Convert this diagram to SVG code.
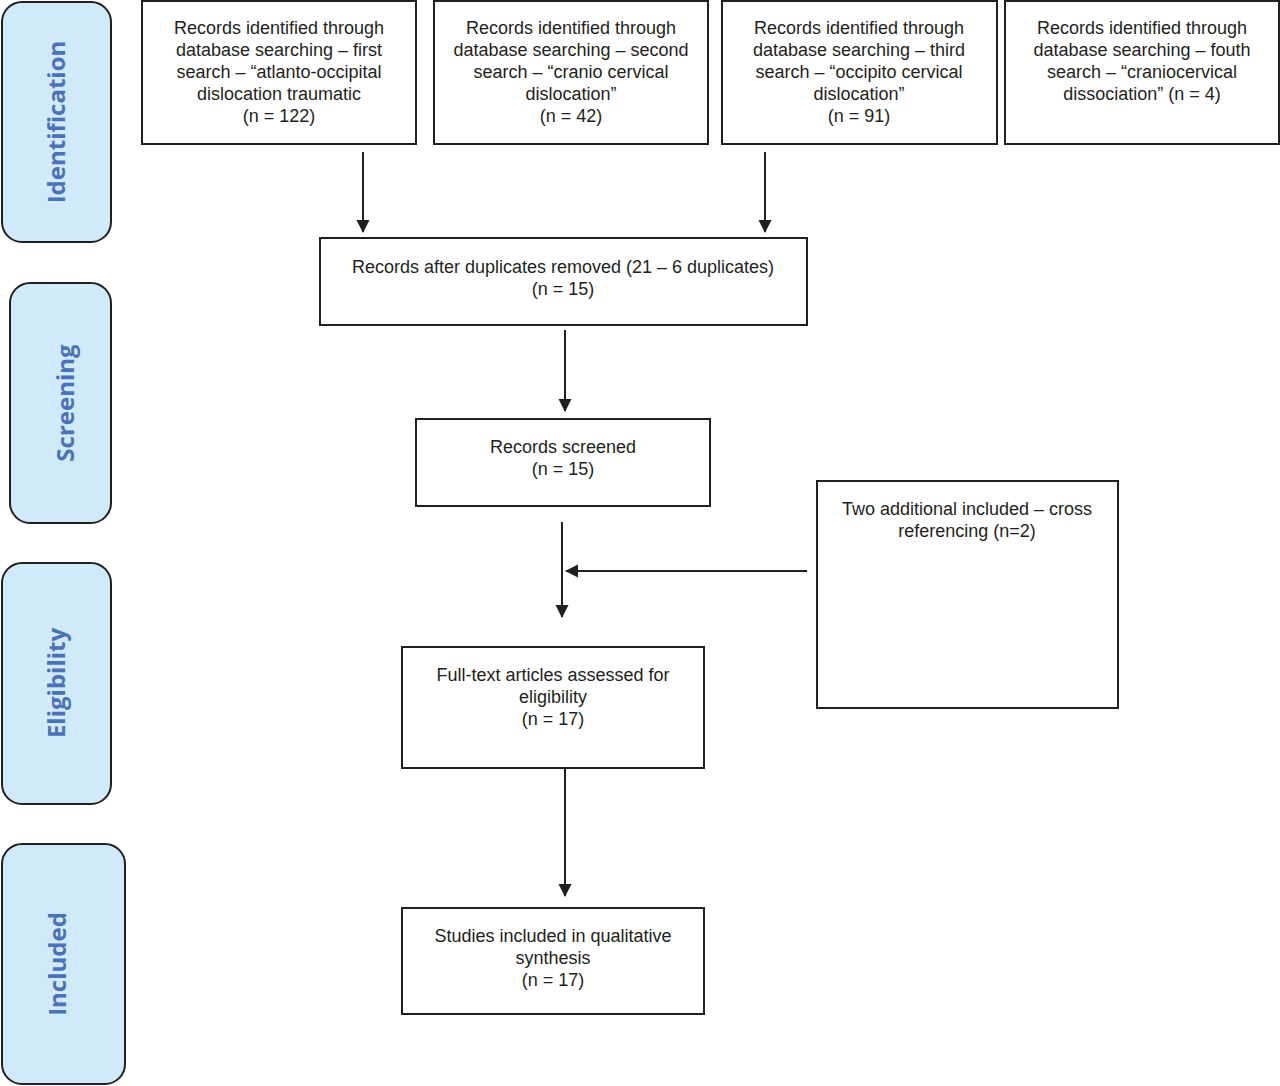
<svg xmlns="http://www.w3.org/2000/svg" width="1280" height="1086" viewBox="0 0 1280 1086">
<style>
.box{fill:#fff;stroke:#231f20;stroke-width:2}
.phase{fill:#d1eaf9;stroke:#231f20;stroke-width:2}
.t{font-family:"Liberation Sans",Arial,sans-serif;font-size:18px;fill:#231f20;text-anchor:middle}
.p{font-family:"Open Sans","Liberation Sans",sans-serif;font-weight:bold;font-size:24px;fill:#4a72b8;text-anchor:middle}
.c{stroke:#231f20;stroke-width:2;fill:none;marker-end:url(#ah)}
</style>
<defs>
<marker id="ah" markerWidth="14" markerHeight="14" refX="12" refY="7" orient="auto" markerUnits="userSpaceOnUse">
<path d="M0,0.5 L13,7 L0,13.5 Z" fill="#231f20"/>
</marker>
</defs>
<rect width="1280" height="1086" fill="#fff"/>
<g id="phase-identification"><rect class="phase" x="2" y="2" width="109" height="240" rx="20"/><text class="p" transform="translate(65,122) rotate(-90)">Identification</text></g>
<g id="phase-screening"><rect class="phase" x="10" y="283" width="101" height="240" rx="20"/><text class="p" transform="translate(74,403) rotate(-90)">Screening</text></g>
<g id="phase-eligibility"><rect class="phase" x="2" y="563" width="109" height="241" rx="20"/><text class="p" transform="translate(65,683) rotate(-90)">Eligibility</text></g>
<g id="phase-included"><rect class="phase" x="2" y="844" width="123" height="240" rx="20"/><text class="p" transform="translate(66,964) rotate(-90)">Included</text></g>

<g id="search1"><rect class="box" x="142" y="1" width="274" height="143"/>
<text class="t"><tspan x="279" y="34">Records identified through</tspan><tspan x="279" y="56">database searching – first</tspan><tspan x="279" y="78">search – “atlanto-occipital</tspan><tspan x="279" y="100">dislocation traumatic</tspan><tspan x="279" y="122">(n = 122)</tspan></text></g>
<g id="search2"><rect class="box" x="434" y="1" width="274" height="143"/>
<text class="t"><tspan x="571" y="34">Records identified through</tspan><tspan x="571" y="56">database searching – second</tspan><tspan x="571" y="78">search – “cranio cervical</tspan><tspan x="571" y="100">dislocation”</tspan><tspan x="571" y="122">(n = 42)</tspan></text></g>
<g id="search3"><rect class="box" x="722" y="1" width="275" height="143"/>
<text class="t"><tspan x="859" y="34">Records identified through</tspan><tspan x="859" y="56">database searching – third</tspan><tspan x="859" y="78">search – “occipito cervical</tspan><tspan x="859" y="100">dislocation”</tspan><tspan x="859" y="122">(n = 91)</tspan></text></g>
<g id="search4"><rect class="box" x="1005" y="1" width="274" height="143"/>
<text class="t"><tspan x="1142" y="34">Records identified through</tspan><tspan x="1142" y="56">database searching – fouth</tspan><tspan x="1142" y="78">search – “craniocervical</tspan><tspan x="1142" y="100">dissociation” (n = 4)</tspan></text></g>
<g id="duplicates"><rect class="box" x="320" y="238" width="487" height="87"/>
<text class="t"><tspan x="563" y="273">Records after duplicates removed (21 – 6 duplicates)</tspan><tspan x="563" y="295">(n = 15)</tspan></text></g>
<g id="screened"><rect class="box" x="416" y="419" width="294" height="87"/>
<text class="t"><tspan x="563" y="453">Records screened</tspan><tspan x="563" y="475">(n = 15)</tspan></text></g>
<g id="additional"><rect class="box" x="817" y="481" width="301" height="227"/>
<text class="t"><tspan x="967" y="515">Two additional included – cross</tspan><tspan x="967" y="537">referencing (n=2)</tspan></text></g>
<g id="fulltext"><rect class="box" x="402" y="647" width="302" height="121"/>
<text class="t"><tspan x="553" y="681">Full-text articles assessed for</tspan><tspan x="553" y="703">eligibility</tspan><tspan x="553" y="725">(n = 17)</tspan></text></g>
<g id="included"><rect class="box" x="402" y="908" width="302" height="106"/>
<text class="t"><tspan x="553" y="942">Studies included in qualitative</tspan><tspan x="553" y="964">synthesis</tspan><tspan x="553" y="986">(n = 17)</tspan></text></g>

<g id="connectors">
<line class="c" x1="363" y1="152" x2="363" y2="232"/>
<line class="c" x1="765" y1="152" x2="765" y2="232"/>
<line class="c" x1="565" y1="330" x2="565" y2="411"/>
<line class="c" x1="562" y1="522" x2="562" y2="617"/>
<line class="c" x1="807" y1="571" x2="566" y2="571"/>
<line class="c" x1="565" y1="768" x2="565" y2="896"/>
</g>
</svg>
